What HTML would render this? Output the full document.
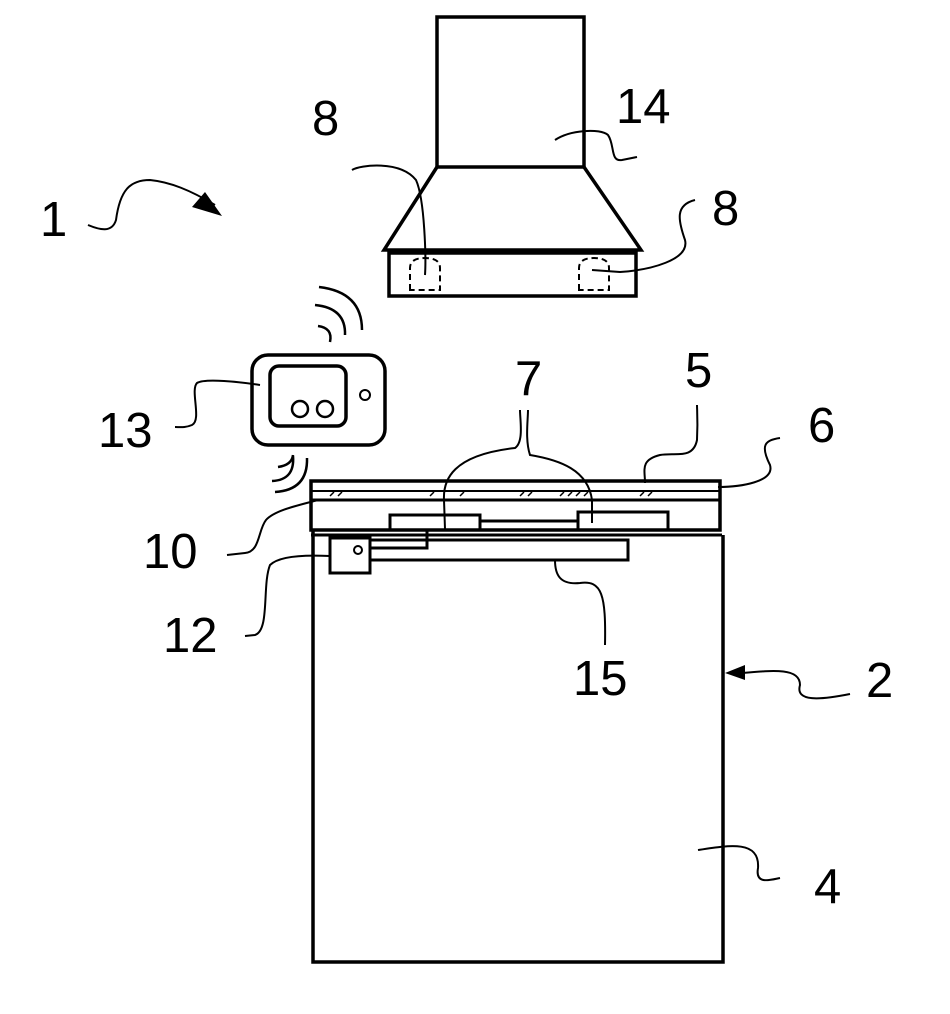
<!DOCTYPE html>
<html><head><meta charset="utf-8"><style>
html,body{margin:0;padding:0;background:#fff;}
svg{display:block;}
text{font-family:"Liberation Sans",sans-serif;font-size:49px;fill:#000;}
</style></head><body>
<svg width="950" height="1014" viewBox="0 0 950 1014" xmlns="http://www.w3.org/2000/svg">
<g fill="none" stroke="#000" stroke-linejoin="miter">
<rect x="437" y="17" width="147" height="150" stroke-width="3.5"/>
<polyline points="437,167 384,250 641,250 584,167" stroke-width="3.5"/>
<line x1="437" y1="167" x2="584" y2="167" stroke-width="2.5"/>
<rect x="389" y="253" width="247" height="43" stroke-width="3.5"/>
<path d="M410,290 V268 Q410,258 425,258 Q440,258 440,268 V290 Z" stroke-width="2" stroke-dasharray="6,4"/>
<path d="M579,290 V268 Q579,258 594,258 Q609,258 609,268 V290 Z" stroke-width="2" stroke-dasharray="6,4"/>
<rect x="252" y="355" width="133" height="90" rx="16" stroke-width="3.5"/>
<rect x="270" y="366" width="76" height="60" rx="9" stroke-width="3.5"/>
<circle cx="300" cy="409" r="8" stroke-width="2.5"/>
<circle cx="325" cy="409" r="8" stroke-width="2.5"/>
<circle cx="365" cy="395" r="5" stroke-width="2"/>
<path d="M318,326 Q333,328 330,342" stroke-width="2.5"/>
<path d="M315,305 Q346,308 345,335" stroke-width="2.5"/>
<path d="M319,287 Q362,292 362,330" stroke-width="2.5"/>
<path d="M293,455 Q292,465 278,467" stroke-width="2.5"/>
<path d="M293,456 Q295,480 272,481" stroke-width="2.5"/>
<path d="M307,458 Q308,490 275,492" stroke-width="2.5"/>
<rect x="311" y="481" width="409" height="49" stroke-width="3.5"/>
<line x1="311" y1="491" x2="720" y2="491" stroke-width="2"/>
<line x1="311" y1="500" x2="720" y2="500" stroke-width="3"/>
<path d="M330,496 l4,-4 M338,496 l4,-4 M520,496 l4,-4 M528,496 l4,-4 M560,496 l4,-4 M568,496 l4,-4 M576,496 l4,-4 M584,496 l4,-4 M640,496 l4,-4 M648,496 l4,-4 M430,496 l4,-4 M460,496 l4,-4" stroke-width="1.5"/>
<line x1="311" y1="535" x2="722" y2="535" stroke-width="3"/>
<path d="M313,530 V962 H723 V535" stroke-width="3.5"/>
<rect x="390" y="515" width="90" height="15" stroke-width="3"/>
<rect x="578" y="512" width="90" height="18" stroke-width="3"/>
<line x1="480" y1="521" x2="578" y2="521" stroke-width="3"/>
<polyline points="370,540 628,540 628,560 370,560" stroke-width="3"/>
<polyline points="427,530 427,548 370,548" stroke-width="3"/>
<rect x="330" y="538" width="40" height="35" stroke-width="3"/>
<circle cx="358" cy="550" r="4" stroke-width="2"/>
<g stroke-width="2">
<path d="M555,140 C570,130 600,128 608,135 C615,145 610,162 622,160 L637,157"/>
<path d="M352,170 C360,165 400,160 416,180 C425,200 426,260 425,275"/>
<path d="M592,270 L620,272 C650,270 690,260 685,240 C678,220 675,205 695,200"/>
<path d="M88,225 C100,230 112,233 116,220 C120,190 130,180 150,180 C170,182 190,190 215,205"/>
<path d="M260,385 C240,382 205,378 197,383 C190,390 202,420 192,425 C185,428 180,427 175,427"/>
<path d="M445,529 L444,500 C443,480 452,455 515,448 C524,442 520,420 520,410"/>
<path d="M592,523 L592,500 C588,470 560,460 530,455 C525,440 528,420 528,410"/>
<path d="M645,483 C645,470 640,460 660,455 C675,452 693,460 697,440 C698,420 697,410 697,405"/>
<path d="M718,487 C740,487 775,482 770,465 C760,445 765,440 780,438"/>
<path d="M318,500 C300,505 275,510 266,520 C258,530 260,552 245,553 L227,555"/>
<path d="M330,556 C310,555 280,555 270,565 C262,585 270,630 255,635 L245,636"/>
<path d="M555,560 C555,575 560,585 580,583 C602,580 606,595 605,645"/>
<path d="M742,673 C775,670 800,668 800,685 C795,702 820,700 850,694"/>
<path d="M698,850 C730,845 760,840 758,868 C755,885 770,880 780,878"/>
</g>
</g>
<polygon points="222,216 192,207 205,192" fill="#000"/>
<polygon points="725,673 745,665 745,680" fill="#000"/>
<text x="40" y="236">1</text>
<text x="312" y="135">8</text>
<text x="616" y="123">14</text>
<text x="712" y="225">8</text>
<text x="98" y="447">13</text>
<text x="515" y="395">7</text>
<text x="685" y="387">5</text>
<text x="808" y="442">6</text>
<text x="143" y="568">10</text>
<text x="163" y="652">12</text>
<text x="573" y="695">15</text>
<text x="866" y="697">2</text>
<text x="814" y="903">4</text>
</svg>
</body></html>
